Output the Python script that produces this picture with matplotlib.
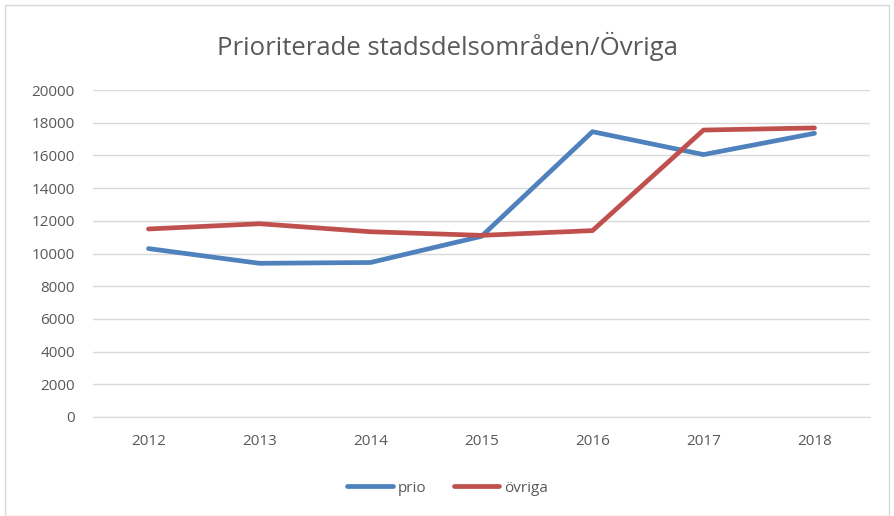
import matplotlib.pyplot as plt
from matplotlib.patches import Rectangle

# Data
years = [2012, 2013, 2014, 2015, 2016, 2017, 2018]
prio = [10300, 9400, 9450, 11050, 17450, 16050, 17350]
ovriga = [11500, 11820, 11330, 11110, 11400, 17550, 17680]
yticks = list(range(0, 20001, 2000))

plt.rcParams['font.family'] = ['Open Sans', 'DejaVu Sans']

fig = plt.figure(figsize=(8.95, 5.16), dpi=100)
ax = fig.add_axes([93 / 895, 1 - 417 / 516, (870 - 93) / 895, (417 - 90) / 516])

x = range(len(years))
ax.plot(x, prio, color='#4f81bd', linewidth=3.4, label='prio', solid_capstyle='round')
ax.plot(x, ovriga, color='#c0504d', linewidth=3.4, label='övriga', solid_capstyle='round')

ax.set_xlim(-0.5, len(years) - 0.5)
ax.set_ylim(0, 20000)
ax.set_yticks(yticks)
ax.set_xticks(list(x))
ax.set_xticklabels([str(y) for y in years])
ax.tick_params(axis='both', length=0, labelsize=11, colors='#595959')
ax.tick_params(axis='x', pad=12)
ax.tick_params(axis='y', pad=13)

ax.grid(axis='y', color='#d9d9d9', linewidth=1)
ax.set_axisbelow(True)
for side in ['top', 'right', 'left']:
    ax.spines[side].set_visible(False)
ax.spines['bottom'].set_color('#d9d9d9')

fig.text(0.5, 1 - 46 / 516, 'Prioriterade stadsdelsområden/Övriga', ha='center', va='center',
         fontsize=18.5, color='#595959')

leg = ax.legend(loc='center', bbox_to_anchor=(0.5, 1 - 488 / 516), bbox_transform=fig.transFigure,
                ncol=2, frameon=False, fontsize=11, handlelength=3.0, columnspacing=1.8,
                handletextpad=0.3)
for t in leg.get_texts():
    t.set_color('#595959')

# chart border
fig.patches.append(Rectangle((5 / 895, 0), 884 / 895, 1 - 5 / 516, transform=fig.transFigure,
                             fill=False, edgecolor='#d9d9d9', linewidth=1))

fig.savefig('out.png', dpi=100)
